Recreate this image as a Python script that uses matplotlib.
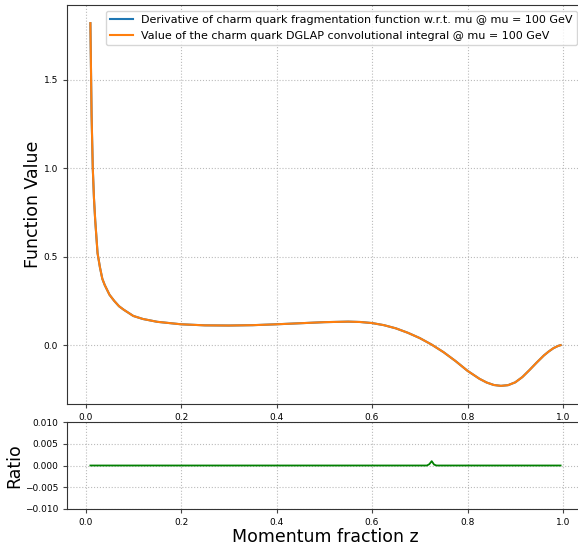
import matplotlib
matplotlib.use("Agg")
from matplotlib import pyplot as plt

# momentum fraction z and the two (overlapping) curves
z = [0.01, 0.0125, 0.015, 0.0175, 0.02, 0.025, 0.03, 0.035, 0.04, 0.05,
     0.06, 0.07, 0.08, 0.1, 0.12, 0.15, 0.2, 0.25, 0.3, 0.35,
     0.4, 0.45, 0.5, 0.55, 0.575, 0.6, 0.625, 0.65, 0.675, 0.7, 0.725,
     0.75, 0.775, 0.8, 0.825, 0.84, 0.855, 0.87, 0.885, 0.9, 0.915, 0.93, 0.945,
     0.96, 0.97, 0.98, 0.99, 0.995]
derivative = [1.82, 1.30, 1.00, 0.83, 0.71, 0.52, 0.44, 0.375, 0.34, 0.285,
              0.25, 0.22, 0.20, 0.165, 0.148, 0.132, 0.118, 0.112, 0.111, 0.113,
              0.118, 0.124, 0.130, 0.133, 0.131, 0.125, 0.113, 0.095, 0.070, 0.040, 0.003,
              -0.040, -0.090, -0.145, -0.190, -0.211, -0.225, -0.230, -0.226, -0.210, -0.180, -0.140, -0.098,
              -0.058, -0.036, -0.017, -0.004, 0.0]
integral = list(derivative)

# ratio panel
z_ratio = [0.01, 0.2, 0.4, 0.6, 0.715, 0.72, 0.725, 0.73, 0.735, 0.8, 0.995]
ratio = [0.0, 0.0, 0.0, 0.0, 0.0, 0.0003, 0.001, 0.0002, 0.0, 0.0, 0.0]

fig = plt.figure(figsize=(5.78, 5.47), dpi=100)
W, H = 578, 547
ax1 = fig.add_axes([67 / W, (H - 404) / H, (584 - 67) / W, (404 - 5) / H])
ax2 = fig.add_axes([67 / W, (H - 509) / H, (584 - 67) / W, (509 - 422) / H])

ax1.plot(z, derivative, color='C0', lw=1.5,
         label="Derivative of charm quark fragmentation function w.r.t. mu @ mu = 100 GeV")
ax1.plot(z, integral, color='C1', lw=1.5,
         label="Value of the charm quark DGLAP convolutional integral @ mu = 100 GeV")
ax1.set_ylabel("Function Value", fontsize=12.5, labelpad=1)
ax1.set_yticks([0.0, 0.5, 1.0, 1.5])
ax1.grid(True, linestyle=':', color='#bbbbbb', lw=0.8)
ax1.legend(loc='upper right', fontsize=8.0, borderaxespad=0.5,
           bbox_to_anchor=(0.998, 1.0))

ax2.plot(z_ratio, ratio, color='green', lw=1.3)
ax2.set_ylim(-0.01, 0.01)
ax2.set_yticks([-0.01, -0.005, 0.0, 0.005, 0.01])
ax2.set_ylabel("Ratio", fontsize=12.5, labelpad=1)
ax2.set_xlabel("Momentum fraction z", fontsize=12.5, labelpad=1)
ax2.grid(True, linestyle=':', color='#bbbbbb', lw=0.8)

for ax in (ax1, ax2):
    ax.set_xlim(-0.039, 1.044)
    ax.set_xticks([0.0, 0.2, 0.4, 0.6, 0.8, 1.0])
    ax.tick_params(labelsize=6.5, length=3, color='#444444')
    for s in ax.spines.values():
        s.set_color('#333333')

fig.savefig("out.png", dpi=100)
